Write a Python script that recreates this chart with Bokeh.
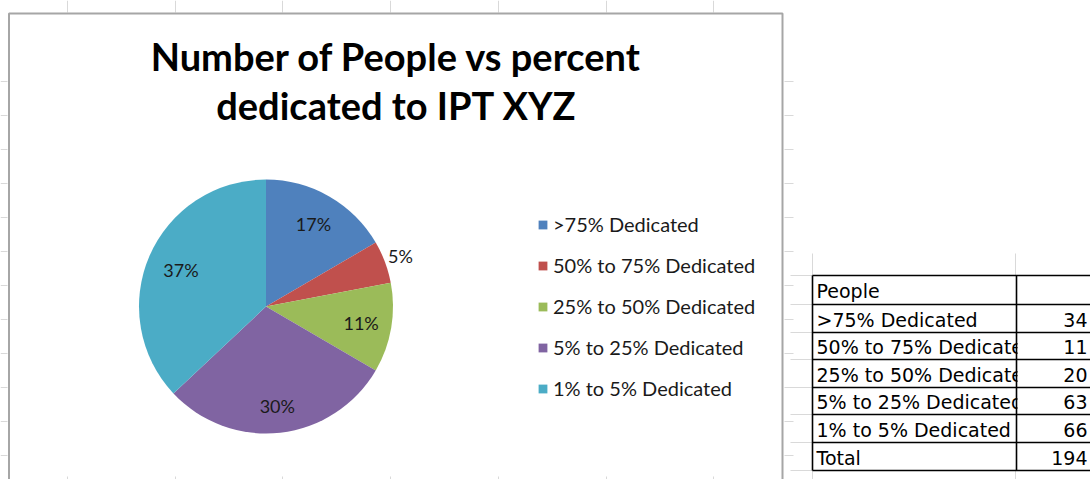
import numpy as np
from bokeh.plotting import figure
from bokeh.models import Range1d, ColumnDataSource, Legend, LegendItem
from bokeh.core.properties import value
from bokeh.embed import file_html
from bokeh.resources import INLINE

# ---------------- data ----------------
title_lines = ["Number of People vs percent", "dedicated to IPT XYZ"]
categories = [">75% Dedicated", "50% to 75% Dedicated", "25% to 50% Dedicated",
              "5% to 25% Dedicated", "1% to 5% Dedicated"]
pie_share = [16.6, 5.4, 11.4, 29.6, 37.0]          # percent
table_header = "People"
table_counts = [34, 11, 20, 63, 66]
table_total_label = "Total"
table_total = 194

# ---------------- style ----------------
colors = ["#4F81BD", "#C0504D", "#9BBB59", "#8064A2", "#4BACC6"]
label_radius = [0.75, 1.13, 0.76, 0.79, 0.73]       # label distance / radius
CX, CY, R = 265.5, -306.0, 127.0
W, H = 1090, 479

p = figure(width=W, height=H, x_range=Range1d(0, W), y_range=Range1d(-H, 0),
           output_backend="svg", toolbar_location=None, min_border=0,
           x_axis_location=None, y_axis_location=None)
p.grid.visible = False
p.outline_line_color = None
p.background_fill_color = "white"
p.border_fill_color = "white"

GRID = "#D9D9D9"
# spreadsheet grid stubs
top_x = [67, 175, 282, 390, 498, 606, 713]
p.segment(x0=top_x, y0=[0] * 7, x1=top_x, y1=[-12] * 7, line_color=GRID, line_width=1)
p.segment(x0=top_x, y0=[-476] * 7, x1=top_x, y1=[-479] * 7, line_color=GRID, line_width=1)
side_y = [81 + 34 * k for k in range(12)]
p.segment(x0=[0] * 12, y0=[-y for y in side_y], x1=[7] * 12, y1=[-y for y in side_y],
          line_color=GRID, line_width=1)
p.segment(x0=[784] * 12, y0=[-y for y in side_y], x1=[793] * 12, y1=[-y for y in side_y],
          line_color=GRID, line_width=1)
row_y = [275, 304, 332, 359, 387, 414, 442, 470]
p.segment(x0=[790] * 8, y0=[-y for y in row_y], x1=[812] * 8, y1=[-y for y in row_y],
          line_color=GRID, line_width=1)
p.segment(x0=[812, 1015, 812, 1015], y0=[-253, -253, -470, -470],
          x1=[812, 1015, 812, 1015], y1=[-275, -275, -479, -479],
          line_color=GRID, line_width=1)

# chart border
p.line(x=[8.5, 8.5, 782, 782], y=[-479, -13, -13, -479], line_color="#A6A6A6", line_width=2)

# title
p.text(x=[396, 396], y=[-55, -104], text=title_lines, text_align="center",
       text_baseline="alphabetic", text_font=value("Lato"), text_font_style="bold",
       text_font_size="38px", text_color="#000000")

# pie
frac = np.array(pie_share) / np.sum(pie_share)
cum = np.concatenate([[0.0], np.cumsum(frac)])
start = np.pi / 2 - 2 * np.pi * cum[:-1]
end = np.pi / 2 - 2 * np.pi * cum[1:]
src = ColumnDataSource(dict(start=start, end=end, color=colors, cat=categories))
wr = p.wedge(x=CX, y=CY, radius=R, start_angle="start", end_angle="end", direction="clock",
             fill_color="color", line_color=None, source=src)

mid = (start + end) / 2
lx = CX + np.array(label_radius) * R * np.cos(mid)
ly = CY + np.array(label_radius) * R * np.sin(mid)
labels = [f"{round(s)}%" for s in pie_share]
p.text(x=lx, y=ly, text=labels, text_align="center", text_baseline="middle",
       text_font=value("Lato"), text_font_size="18px", text_color="#1A1A1A")

# legend
items = [LegendItem(label=c, renderers=[wr], index=i) for i, c in enumerate(categories)]
legend = Legend(items=items, location=(537, 79), orientation="vertical",
                glyph_width=11, glyph_height=11, label_height=20, spacing=17,
                label_standoff=5, padding=0, margin=0,
                label_text_font="Lato", label_text_font_size="20px",
                label_text_color="#1A1A1A", border_line_color=None,
                background_fill_alpha=0)
p.add_layout(legend, "center")

# table
row_labels = [table_header] + categories + [table_total_label]
row_vals = [""] + [str(v) for v in table_counts] + [str(table_total)]
centers = [(row_y[i] + row_y[i + 1]) / 2 + 1 for i in range(7)]
p.text(x=[816] * 7, y=[-c for c in centers], text=row_labels, text_align="left",
       text_baseline="middle", text_font=value("DejaVu Sans"), text_font_size="19px",
       text_color="#000000")
p.quad(left=1017, right=W, top=-276, bottom=-469, fill_color="white", line_color=None)
p.text(x=[1087] * 7, y=[-c for c in centers], text=row_vals, text_align="right",
       text_baseline="middle", text_font=value("DejaVu Sans"), text_font_size="19px",
       text_color="#000000")
p.segment(x0=[812] * 8, y0=[-y for y in row_y], x1=[W] * 8, y1=[-y for y in row_y],
          line_color="#000000", line_width=1.6)
p.segment(x0=[812, 1016], y0=[-275, -275], x1=[812, 1016], y1=[-470, -470],
          line_color="#000000", line_width=1.6)

open("out.html", "w").write(file_html(p, INLINE))
